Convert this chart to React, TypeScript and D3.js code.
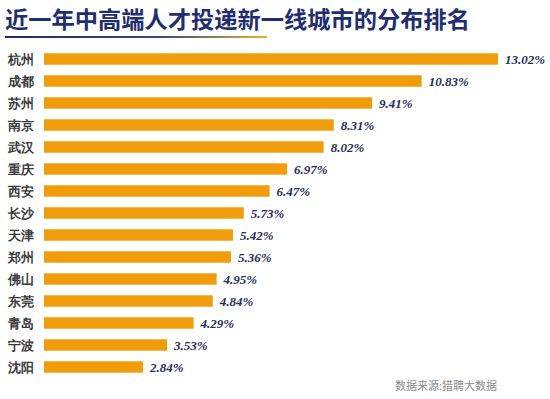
import * as d3 from "d3";

const cities = ["杭州", "成都", "苏州", "南京", "武汉", "重庆", "西安", "长沙", "天津", "郑州", "佛山", "东莞", "青岛", "宁波", "沈阳"];
const shares = [13.02, 10.83, 9.41, 8.31, 8.02, 6.97, 6.47, 5.73, 5.42, 5.36, 4.95, 4.84, 4.29, 3.53, 2.84];
const title = "近一年中高端人才投递新一线城市的分布排名";
const source = "数据来源:猎聘大数据";

const width = 550;
const height = 399;

const App = () => {
  const x = d3.scaleLinear().domain([0, d3.max(shares)!]).range([44, 498]);
  const y = d3.scaleBand<string>().domain(cities).range([48, 378]).paddingInner(0.48).paddingOuter(0.24);
  const sans = "'Noto Sans CJK SC', 'Noto Sans', sans-serif";
  const serif = "'Liberation Serif', 'DejaVu Serif', serif";

  return (
    <svg width={width} height={height} style={{ position: "absolute", left: 0, top: 0, background: "#fff" }}>
      <defs>
        <linearGradient id="underline" x1="0" x2="1" y1="0" y2="0">
          <stop offset="0%" stopColor="#1d2c6b" />
          <stop offset="60%" stopColor="#3a4a7a" />
          <stop offset="100%" stopColor="#e8b52a" />
        </linearGradient>
      </defs>
      <text x={5} y={28} fontFamily={sans} fontWeight={700} fontSize={23} fill="#1f2e6e" textLength={465} lengthAdjust="spacingAndGlyphs">
        {title}
      </text>
      <rect x={5} y={36} width={262} height={2} fill="url(#underline)" />

      {cities.map((c, i) => {
        const yy = y(c)!;
        const mid = yy + y.bandwidth() / 2;
        return (
          <g key={c}>
            <text x={8} y={mid} dy="0.36em" fontFamily={serif} fontWeight={700} fontSize={12.5} fill="#3a3a3a">
              {c}
            </text>
            <rect x={x(0)} y={yy} width={x(shares[i]) - x(0)} height={y.bandwidth()} fill="#f19c0a" />
            <text x={x(shares[i]) + 7} y={mid} dy="0.36em" fontFamily={serif} fontWeight={700} fontStyle="italic" fontSize={13} fill="#1f2e5e">
              {shares[i].toFixed(2)}%
            </text>
          </g>
        );
      })}

      <text x={497} y={390} textAnchor="end" fontFamily={sans} fontSize={11} fill="#8a8a8a">
        {source}
      </text>
    </svg>
  );
};

export default App;
